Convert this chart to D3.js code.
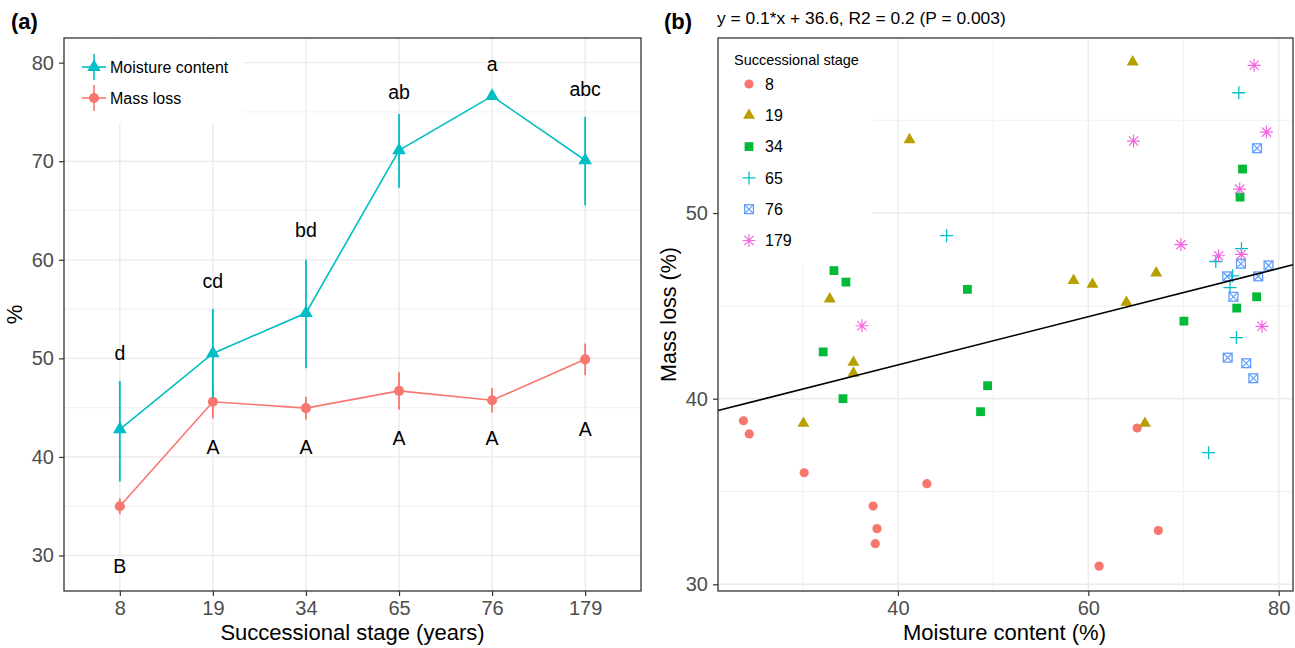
<!DOCTYPE html>
<html><head><meta charset="utf-8">
<script src="https://cdn.jsdelivr.net/npm/d3@7"></script>
<style>body{margin:0;background:#fff;} svg{display:block;} text{font-family:"Liberation Sans",Arial,sans-serif;}</style>
</head><body><svg id="c" width="1295" height="648"></svg>
<script>
// ---------- Panel (a) data ----------
const stages = ["8","19","34","65","76","179"];
const moistMean = [42.8, 50.5, 54.6, 71.1, 76.6, 70.1];
const moistLo   = [37.5, 46.0, 49.0, 67.3, 76.3, 65.5];
const moistHi   = [47.7, 55.0, 60.0, 74.8, 76.9, 74.5];
const massMean  = [35.0, 45.6, 44.95, 46.7, 45.75, 49.9];
const massLo    = [34.2, 43.9, 43.8, 44.8, 44.5, 48.3];
const massHi    = [35.8, 47.4, 46.1, 48.6, 47.0, 51.5];
const moistLetters = ["d","cd","bd","ab","a","abc"];
const moistLetterY = [50.5, 57.8, 63.0, 77.0, 79.9, 77.3];
const massLetters  = ["B","A","A","A","A","A"];
const massLetterY  = [28.9, 41.0, 41.0, 41.9, 41.9, 42.8];
const aYTicks = [30, 40, 50, 60, 70, 80];
const aYMinor = [35, 45, 55, 65, 75];
const aSeries = ["Moisture content", "Mass loss"];

// ---------- Panel (b) data ----------
const groupNames = ["8","19","34","65","76","179"];
const s8x  = [23.77, 24.38, 30.15, 43.04, 37.40, 37.80, 37.62, 61.13, 65.13, 67.35];
const s8y  = [38.81, 38.10, 36.01, 35.42, 34.22, 33.00, 32.19, 30.98, 38.42, 32.90];
const s19x = [64.66, 41.22, 58.45, 60.44, 67.13, 64.00, 32.84, 35.32, 35.32, 30.07, 65.95];
const s19y = [58.14, 53.95, 46.37, 46.16, 46.77, 45.19, 45.37, 41.96, 41.37, 38.67, 38.67];
const s34x = [33.28, 34.54, 47.30, 76.20, 75.94, 70.04, 77.68, 75.59, 32.15, 34.23, 49.42, 48.68];
const s34y = [46.90, 46.28, 45.89, 52.37, 50.86, 44.18, 45.49, 44.88, 42.52, 40.00, 40.70, 39.30];
const s65x = [75.81, 45.12, 76.09, 73.39, 75.15, 74.88, 75.56, 72.63];
const s65y = [56.48, 48.78, 48.08, 47.39, 46.62, 45.98, 43.29, 37.09];
const s76x = [77.72, 76.03, 78.93, 74.59, 77.85, 75.24, 74.64, 76.59, 77.33];
const s76y = [53.49, 47.27, 47.18, 46.59, 46.59, 45.49, 42.21, 41.91, 41.10];
const s179x = [77.42, 78.72, 64.75, 75.90, 69.73, 73.68, 76.07, 36.22, 78.24];
const s179y = [57.96, 54.36, 53.88, 51.29, 48.30, 47.70, 47.77, 43.93, 43.90];
const regSlope = 0.13, regIntercept = 36.62;
const bXTicks = [40, 60, 80], bXMinor = [30, 50, 70];
const bYTicks = [30, 40, 50], bYMinor = [35, 45, 55];
const bSubtitle = "y = 0.1*x + 36.6, R2 = 0.2 (P = 0.003)";

const svg = d3.select("#c");
const FONT = '"Liberation Sans", Arial, sans-serif';
const gridMajor = "#ebebeb", gridMinor = "#f2f2f2";
const colMoist = "#00BFC4", colMass = "#F8766D";
const groupCols = ["#F8766D","#B79F00","#00BA38","#00BFC4","#619CFF","#F564E3"];
const TICKFS = 20, TITLEFS = 22;

// ================= Panel (a) =================
const aL = 64, aR = 641, aT = 38, aB = 591;
const xa = d3.scalePoint().domain(stages).range([aL, aR]).padding(0.6);
const ya = d3.scaleLinear().domain([26.4, 82.5]).range([aB, aT]);
const ga = svg.append("g");
ga.append("rect").attr("x", aL).attr("y", aT).attr("width", aR-aL).attr("height", aB-aT).attr("fill", "#fff");
ga.selectAll(".amin").data(aYMinor).join("line").attr("x1", aL).attr("x2", aR)
  .attr("y1", d=>ya(d)).attr("y2", d=>ya(d)).attr("stroke", gridMinor).attr("stroke-width", 1);
ga.selectAll(".amaj").data(aYTicks).join("line").attr("x1", aL).attr("x2", aR)
  .attr("y1", d=>ya(d)).attr("y2", d=>ya(d)).attr("stroke", gridMajor).attr("stroke-width", 1.4);
ga.selectAll(".avx").data(stages).join("line").attr("x1", d=>xa(d)).attr("x2", d=>xa(d))
  .attr("y1", aT).attr("y2", aB).attr("stroke", gridMajor).attr("stroke-width", 1.4);

function drawSeries(g, mean, lo, hi, col, shape) {
  const pts = stages.map((s,i)=>({s, m:mean[i], lo:lo[i], hi:hi[i]}));
  g.selectAll(null).data(pts).join("line").attr("x1", d=>xa(d.s)).attr("x2", d=>xa(d.s))
    .attr("y1", d=>ya(d.lo)).attr("y2", d=>ya(d.hi)).attr("stroke", col).attr("stroke-width", 1.8);
  g.append("path").datum(pts).attr("fill","none").attr("stroke", col).attr("stroke-width", 1.6)
    .attr("d", d3.line().x(d=>xa(d.s)).y(d=>ya(d.m)));
  g.selectAll(null).data(pts).join("path")
    .attr("transform", d=>`translate(${xa(d.s)},${ya(d.m)})`)
    .attr("d", d3.symbol().type(shape).size(80)()).attr("fill", col);
}
drawSeries(ga, massMean, massLo, massHi, colMass, d3.symbolCircle);
drawSeries(ga, moistMean, moistLo, moistHi, colMoist, d3.symbolTriangle);

ga.selectAll(".ml").data(stages).join("text").attr("x", d=>xa(d)).attr("y", (d,i)=>ya(moistLetterY[i]))
  .attr("dy", "0.36em").attr("text-anchor","middle").attr("font-size", 19.5).attr("fill","#000")
  .text((d,i)=>moistLetters[i]);
ga.selectAll(".mal").data(stages).join("text").attr("x", d=>xa(d)).attr("y", (d,i)=>ya(massLetterY[i]))
  .attr("dy", "0.36em").attr("text-anchor","middle").attr("font-size", 19.5).attr("fill","#000")
  .text((d,i)=>massLetters[i]);

// legend (a)
ga.append("rect").attr("x", aL+1).attr("y", aT+1).attr("width", 243-aL-1).attr("height", 123-aT-1).attr("fill", "#fff");
const legA = [{name:aSeries[0], col:colMoist, shape:d3.symbolTriangle, y:67},
              {name:aSeries[1], col:colMass, shape:d3.symbolCircle, y:98}];
legA.forEach(l=>{
  ga.append("line").attr("x1", 82).attr("x2", 106).attr("y1", l.y).attr("y2", l.y).attr("stroke", l.col).attr("stroke-width", 1.6);
  ga.append("line").attr("x1", 94).attr("x2", 94).attr("y1", l.y-13).attr("y2", l.y+13).attr("stroke", l.col).attr("stroke-width", 1.6);
  ga.append("path").attr("transform", `translate(94,${l.y})`).attr("d", d3.symbol().type(l.shape).size(80)()).attr("fill", l.col);
  ga.append("text").attr("x", 110).attr("y", l.y).attr("dy","0.36em").attr("font-size", 16).attr("fill","#000").text(l.name);
});

ga.append("rect").attr("x", aL).attr("y", aT).attr("width", aR-aL).attr("height", aB-aT)
  .attr("fill","none").attr("stroke","#333").attr("stroke-width", 1.3);

const axAy = ga.append("g").attr("transform", `translate(${aL},0)`)
  .call(d3.axisLeft(ya).tickValues(aYTicks).tickSize(5).tickPadding(5));
const axAx = ga.append("g").attr("transform", `translate(0,${aB})`)
  .call(d3.axisBottom(xa).tickSize(5).tickPadding(5));
[axAy, axAx].forEach(a=>{
  a.select(".domain").remove();
  a.selectAll("line").attr("stroke","#333").attr("stroke-width",1.2);
  a.selectAll("text").attr("fill","#4d4d4d").attr("font-size", TICKFS).attr("font-family", FONT);
});
ga.append("text").attr("x", (aL+aR)/2).attr("y", 640).attr("text-anchor","middle").attr("font-size", TITLEFS).attr("fill","#000").text("Successional stage (years)");
ga.append("text").attr("transform", `translate(22,${(aT+aB)/2}) rotate(-90)`).attr("text-anchor","middle").attr("font-size", TITLEFS).attr("fill","#000").text("%");
ga.append("text").attr("x", 11).attr("y", 29).attr("font-size", 22).attr("font-weight","bold").attr("fill","#000").text("(a)");

// ================= Panel (b) =================
const bL = 718, bR = 1293, bT = 38, bB = 591;
const xb = d3.scaleLinear().domain([21.1, 81.5]).range([bL, bR]);
const yb = d3.scaleLinear().domain([29.64, 59.43]).range([bB, bT]);
const gb = svg.append("g");
gb.append("rect").attr("x", bL).attr("y", bT).attr("width", bR-bL).attr("height", bB-bT).attr("fill", "#fff");
gb.selectAll(".bym").data(bYMinor).join("line").attr("x1", bL).attr("x2", bR)
  .attr("y1", d=>yb(d)).attr("y2", d=>yb(d)).attr("stroke", gridMinor).attr("stroke-width", 1);
gb.selectAll(".bxm").data(bXMinor).join("line").attr("y1", bT).attr("y2", bB)
  .attr("x1", d=>xb(d)).attr("x2", d=>xb(d)).attr("stroke", gridMinor).attr("stroke-width", 1);
gb.selectAll(".byM").data(bYTicks).join("line").attr("x1", bL).attr("x2", bR)
  .attr("y1", d=>yb(d)).attr("y2", d=>yb(d)).attr("stroke", gridMajor).attr("stroke-width", 1.4);
gb.selectAll(".bxM").data(bXTicks).join("line").attr("y1", bT).attr("y2", bB)
  .attr("x1", d=>xb(d)).attr("x2", d=>xb(d)).attr("stroke", gridMajor).attr("stroke-width", 1.4);

const groupsX = [s8x, s19x, s34x, s65x, s76x, s179x];
const groupsY = [s8y, s19y, s34y, s65y, s76y, s179y];

function drawMarker(g, k, cx, cy, col) {
  const t = g.append("g").attr("transform", `translate(${cx},${cy})`);
  if (k === 0) {
    t.append("circle").attr("r", 4.6).attr("fill", col);
  } else if (k === 1) {
    t.append("path").attr("d", d3.symbol().type(d3.symbolTriangle).size(62)()).attr("fill", col);
  } else if (k === 2) {
    t.append("rect").attr("x", -4.4).attr("y", -4.4).attr("width", 8.8).attr("height", 8.8).attr("fill", col);
  } else if (k === 3) {
    t.append("path").attr("d", "M-6.5,0H6.5M0,-6.5V6.5").attr("stroke", col).attr("stroke-width", 1.3).attr("fill","none");
  } else if (k === 4) {
    t.append("rect").attr("x", -4.4).attr("y", -4.4).attr("width", 8.8).attr("height", 8.8).attr("fill","none").attr("stroke", col).attr("stroke-width", 1.3);
    t.append("path").attr("d", "M-4.4,-4.4L4.4,4.4M-4.4,4.4L4.4,-4.4").attr("stroke", col).attr("stroke-width", 1.2);
  } else {
    t.append("path").attr("d", "M-6.5,0H6.5M0,-6.5V6.5M-4.6,-4.6L4.6,4.6M-4.6,4.6L4.6,-4.6").attr("stroke", col).attr("stroke-width", 1.2).attr("fill","none");
  }
}
groupNames.forEach((gname, k)=>{
  groupsX[k].forEach((xv, i)=> drawMarker(gb, k, xb(xv), yb(groupsY[k][i]), groupCols[k]));
});

const xd = xb.domain();
gb.append("line").attr("x1", xb(xd[0])).attr("x2", xb(xd[1]))
  .attr("y1", yb(regIntercept + regSlope*xd[0])).attr("y2", yb(regIntercept + regSlope*xd[1]))
  .attr("stroke","#000").attr("stroke-width", 1.6);

// legend (b)
gb.append("rect").attr("x", bL+1).attr("y", bT+1).attr("width", 873-bL-1).attr("height", 265-bT-1).attr("fill","#fff");
gb.append("text").attr("x", 734).attr("y", 60).attr("dy","0.36em").attr("font-size", 14.5).attr("fill","#000").text("Successional stage");
groupNames.forEach((gname, k)=>{
  const ly = 84 + k*31.3;
  drawMarker(gb, k, 749, ly, groupCols[k]);
  gb.append("text").attr("x", 765).attr("y", ly).attr("dy","0.36em").attr("font-size", 16).attr("fill","#000").text(gname);
});

gb.append("rect").attr("x", bL).attr("y", bT).attr("width", bR-bL).attr("height", bB-bT)
  .attr("fill","none").attr("stroke","#333").attr("stroke-width", 1.3);
const axBy = gb.append("g").attr("transform", `translate(${bL},0)`)
  .call(d3.axisLeft(yb).tickValues(bYTicks).tickSize(5).tickPadding(5));
const axBx = gb.append("g").attr("transform", `translate(0,${bB})`)
  .call(d3.axisBottom(xb).tickValues(bXTicks).tickSize(5).tickPadding(5));
[axBy, axBx].forEach(a=>{
  a.select(".domain").remove();
  a.selectAll("line").attr("stroke","#333").attr("stroke-width",1.2);
  a.selectAll("text").attr("fill","#4d4d4d").attr("font-size", TICKFS).attr("font-family", FONT);
});
gb.append("text").attr("x", (bL+bR)/2 - 1).attr("y", 640).attr("text-anchor","middle").attr("font-size", TITLEFS).attr("fill","#000").text("Moisture content (%)");
gb.append("text").attr("transform", `translate(676,${(bT+bB)/2}) rotate(-90)`).attr("text-anchor","middle").attr("font-size", 21.5).attr("fill","#000").text("Mass loss (%)");
gb.append("text").attr("x", 664).attr("y", 29).attr("font-size", 22).attr("font-weight","bold").attr("fill","#000").text("(b)");
gb.append("text").attr("x", 717).attr("y", 23.5).attr("font-size", 17.4).attr("fill","#000").text(bSubtitle);
</script></body></html>
